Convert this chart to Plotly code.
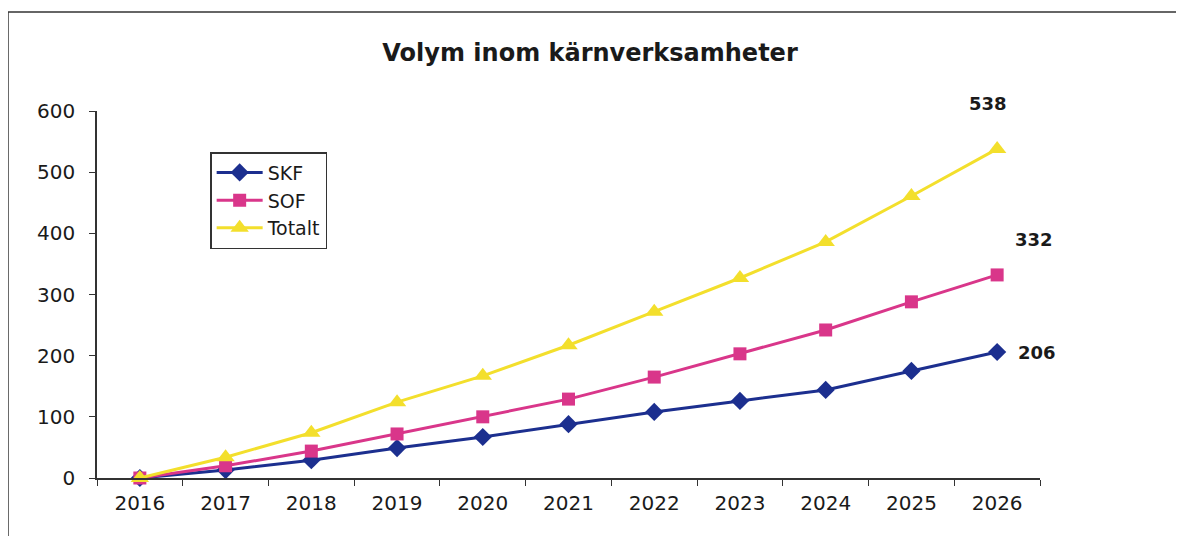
import plotly.graph_objects as go

# data
years = [2016, 2017, 2018, 2019, 2020, 2021, 2022, 2023, 2024, 2025, 2026]
skf = [0, 13, 29, 49, 67, 88, 108, 126, 144, 175, 206]
sof = [0, 20, 44, 72, 100, 129, 165, 203, 242, 288, 332]
totalt = [0, 34, 74, 124, 167, 217, 272, 327, 386, 461, 538]

y_ticks = [0, 100, 200, 300, 400, 500, 600]

font = 'DejaVu Sans, Arial, sans-serif'

fig = go.Figure()

fig.add_trace(go.Scatter(x=years, y=skf, name='SKF', mode='lines+markers', legendgroup='a',
                         line=dict(color='#1c2f8f', width=3),
                         marker=dict(symbol='diamond', size=14, color='#1c2f8f'),
                         cliponaxis=False))
fig.add_trace(go.Scatter(x=years, y=sof, name='SOF', mode='lines+markers', legendgroup='b',
                         line=dict(color='#d9368a', width=3),
                         marker=dict(symbol='square', size=13, color='#d9368a'),
                         cliponaxis=False))
fig.add_trace(go.Scatter(x=years, y=totalt, name='Totalt', mode='lines+markers', legendgroup='c',
                         line=dict(color='#f3df2c', width=3),
                         marker=dict(symbol='triangle-up', size=16, color='#f3df2c'),
                         cliponaxis=False))

# end labels
for vals, dx, dy in [(totalt, -9, -45), (sof, 37, -35), (skf, 40, 0)]:
    fig.add_annotation(x=years[-1], y=vals[-1], text='<b>%d</b>' % vals[-1],
                       showarrow=False, xshift=dx, yshift=-dy,
                       font=dict(family=font, size=18, color='#1a1a1a'))

# outer frame (top and left edges)
fig.add_shape(type='line', xref='paper', yref='paper', x0=-0.0944, x1=1.2, y0=1.27, y1=1.27,
              line=dict(color='#333', width=1.5))
fig.add_shape(type='line', xref='paper', yref='paper', x0=-0.0944, x1=-0.0944, y0=1.27, y1=-0.3,
              line=dict(color='#333', width=1.5))

fig.update_layout(
    width=1184, height=536,
    margin=dict(l=89, r=152, t=103, b=66),
    paper_bgcolor='white', plot_bgcolor='white',
    font=dict(family=font, size=20, color='#1a1a1a'),
    title=dict(text='<b>Volym inom kärnverksamheter</b>', x=0.4916, xanchor='center',
               y=0.916, yanchor='middle', font=dict(size=24)),
    showlegend=True,
    legend=dict(x=0.12, y=0.888, xanchor='left', yanchor='top',
                bordercolor='#333', borderwidth=1.5, bgcolor='white',
                font=dict(size=19), tracegroupgap=0, itemwidth=46),
    xaxis=dict(range=[2015.5, 2026.5], tickvals=years, ticks='',
               showline=True, linecolor='#333', linewidth=1.5,
               showgrid=False, zeroline=False, tickfont=dict(size=20),
               ticklabelstandoff=6,
               minor=dict(tick0=2015.5, dtick=1, ticks='outside', ticklen=6,
                          tickcolor='#333', showgrid=False)),
    yaxis=dict(range=[0, 600], tickvals=y_ticks, ticks='outside', ticklen=6,
               tickcolor='#333', showline=True, linecolor='#333', linewidth=1.5,
               showgrid=False, zeroline=False, tickfont=dict(size=20),
               ticklabelstandoff=10),
)

fig.write_html('out.html')
